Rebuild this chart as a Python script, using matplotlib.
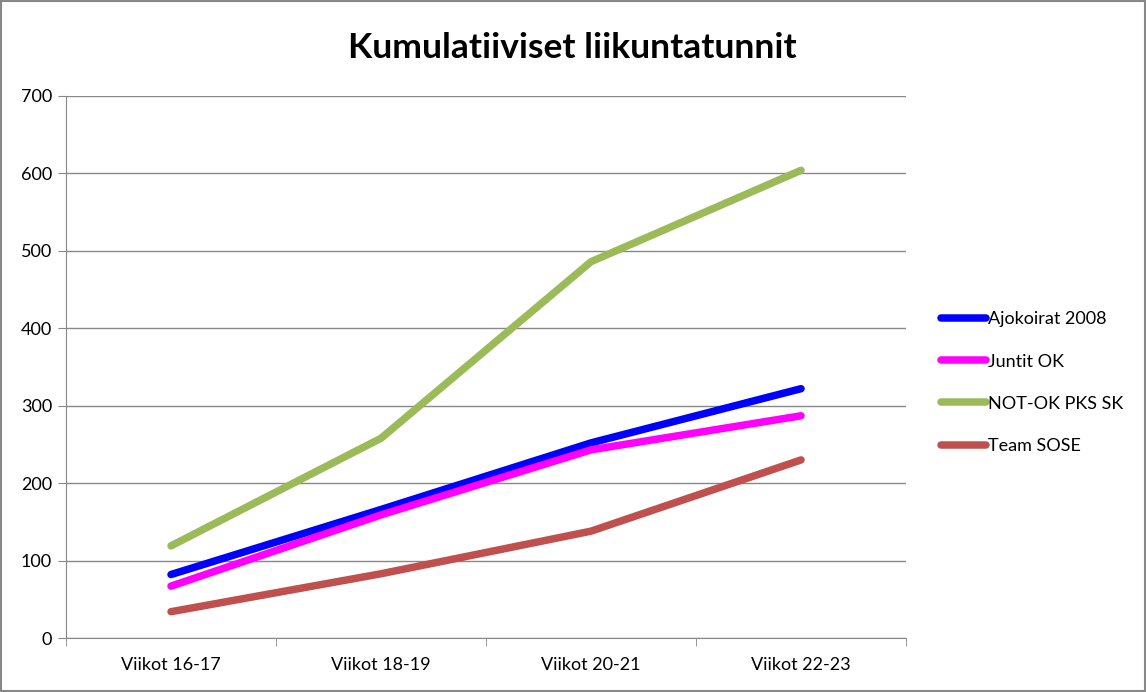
import matplotlib
matplotlib.use("Agg")
import matplotlib.pyplot as plt

plt.rcParams['font.family'] = ['Lato', 'DejaVu Sans']

weeks = ["Viikot 16-17", "Viikot 18-19", "Viikot 20-21", "Viikot 22-23"]
ajokoirat = [82, 166, 252, 322]
juntit = [67, 159, 243, 287]
notok = [119, 258, 486, 604]
sose = [34, 83, 138, 230]

series = [
    ("Ajokoirat 2008", ajokoirat, "#0000ff"),
    ("Juntit OK", juntit, "#ff00ff"),
    ("NOT-OK PKS SK", notok, "#9bbb59"),
    ("Team SOSE", sose, "#c0504d"),
]

fig = plt.figure(figsize=(11.46, 6.92), dpi=100)
ax = fig.add_axes([0.0576, 0.078, 0.7330, 0.7833])

x = range(len(weeks))
for name, vals, col in series:
    ax.plot(x, vals, color=col, lw=5.4, label=name, solid_capstyle='round')

ax.set_xlim(-0.5, 3.5)
ax.set_ylim(0, 700)
ax.set_yticks(range(0, 701, 100))
ax.set_xticks(x)
ax.set_xticklabels(weeks)
ax.set_xticks([-0.5, 0.5, 1.5, 2.5, 3.5], minor=True)
ax.tick_params(axis='x', which='major', length=0, pad=14, labelsize=13)
ax.tick_params(axis='x', which='minor', length=6, color='#888888')
ax.tick_params(axis='y', length=6, color='#888888', labelsize=13, pad=4)
ax.grid(axis='y', color='#888888', lw=1)
ax.set_axisbelow(True)
for s in ['top', 'right']:
    ax.spines[s].set_visible(False)
for s in ['left', 'bottom']:
    ax.spines[s].set_color('#888888')

fig.text(0.4995, 0.930, "Kumulatiiviset liikuntatunnit", ha='center', va='center',
         fontsize=25.5, fontweight='bold')

ax.legend(loc='center left', bbox_to_anchor=(1.022, 0.471), frameon=False,
          fontsize=13, handlelength=2.5, handletextpad=0.1, labelspacing=1.45)

fig.patches.append(plt.Rectangle((0.001, 0.001), 0.998, 0.998, transform=fig.transFigure,
                                 fill=False, edgecolor='#888888', lw=1.5))

fig.savefig("out.png", dpi=100)
